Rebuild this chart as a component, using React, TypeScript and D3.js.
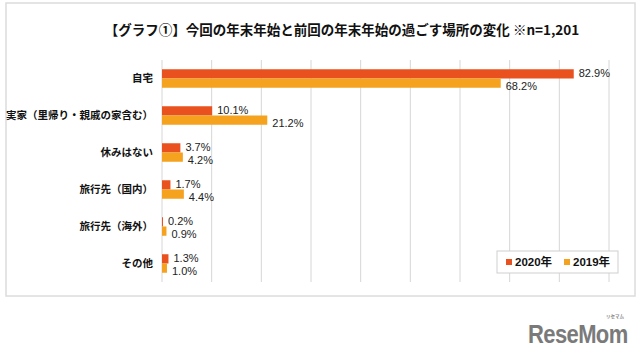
import React from "react";
import * as d3 from "d3";

const categories = ["自宅", "実家（里帰り・親戚の家含む）", "休みはない", "旅行先（国内）", "旅行先（海外）", "その他"];
const values2020 = [82.9, 10.1, 3.7, 1.7, 0.2, 1.3];
const values2019 = [68.2, 21.2, 4.2, 4.4, 0.9, 1.0];
const seriesNames = ["2020年", "2019年"];
const xTicks = [0, 10, 20, 30, 40, 50, 60, 70, 80, 90];
const title = "【グラフ①】今回の年末年始と前回の年末年始の過ごす場所の変化 ※n=1,201";

const C2020 = "#E9521F";
const C2019 = "#F5A21E";
const JP = "'Noto Sans CJK JP', 'Noto Sans', sans-serif";
const NUM = "'Liberation Sans', Arial, 'Noto Sans CJK JP', sans-serif";

export default function App() {
  const W = 640, H = 358;
  const x = d3.scaleLinear().domain([0, 90]).range([162, 609]);
  const y = d3.scaleBand<string>().domain(categories).range([60, 282]).paddingInner(0.5).paddingOuter(0.25);
  const sub = d3.scaleBand<number>().domain([0, 1]).range([0, y.bandwidth()]);
  const series = [values2020, values2019];
  const colors = [C2020, C2019];
  const labelDy = [-1, 3];

  return (
    <svg width={W} height={H} style={{ position: "absolute", left: 0, top: 0, background: "#fff" }}>
      <rect x={6} y={3} width={629} height={293} fill="#fff" stroke="#dcdcdc" strokeWidth={1.5} />
      <text x={342} y={35} textAnchor="middle" fontFamily={JP} fontWeight={700} fontSize={13.5} fill="#111">
        {title}
      </text>
      {xTicks.map((t) => (
        <line key={t} x1={x(t)} x2={x(t)} y1={60} y2={282} stroke="#d6d6d6" strokeWidth={1} />
      ))}
      {categories.map((c, i) => (
        <g key={c}>
          <text x={153} y={(y(c) as number) + y.bandwidth() / 2} dy="0.36em" textAnchor="end" fontFamily={JP} fontWeight={700} fontSize={10.5} fill="#111">
            {c}
          </text>
          {series.map((vals, s) => {
            const by = (y(c) as number) + (sub(s) as number);
            return (
              <g key={s}>
                <rect x={x(0)} y={by} width={x(vals[i]) - x(0)} height={sub.bandwidth()} fill={colors[s]} />
                <text x={x(vals[i]) + 5} y={by + sub.bandwidth() / 2 + labelDy[s]} dy="0.36em" fontFamily={NUM} fontSize={11} fill="#222">
                  {vals[i].toFixed(1)}%
                </text>
              </g>
            );
          })}
        </g>
      ))}
      <g>
        <rect x={497} y={251} width={121} height={22} fill="#fff" stroke="#cfcfcf" strokeWidth={1} />
        {seriesNames.map((n, s) => (
          <g key={n} transform={`translate(${506 + s * 58},262)`}>
            <rect x={0} y={-3} width={6} height={6} fill={colors[s]} />
            <text x={9} y={0} dy="0.36em" fontFamily={NUM} fontWeight={700} fontSize={11.5} fill="#111">
              {n}
            </text>
          </g>
        ))}
      </g>
      <text x={606} y={318} fontFamily={JP} fontSize={4.5} fill="#888" fontWeight={700}>リセマム</text>
      <text transform="translate(528,343) scale(1,1.2)" x={0} y={0} fontFamily={NUM} fontWeight={700} fontSize={22} fill="#7a7a7a" letterSpacing={-0.6}>
        ReseMom
      </text>
    </svg>
  );
}
